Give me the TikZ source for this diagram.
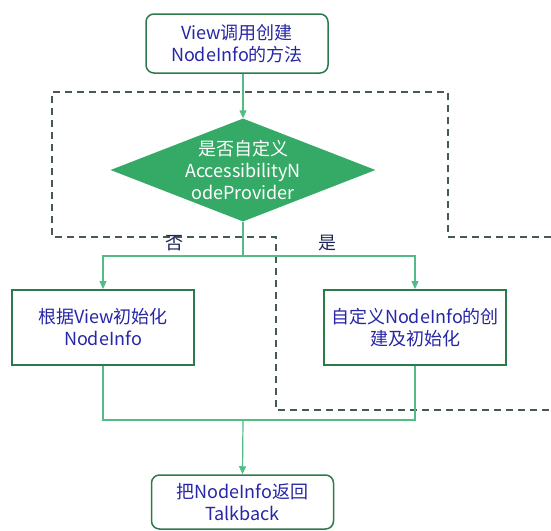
\documentclass[tikz,border=0pt]{standalone}
\usepackage{fontspec}
\setmainfont{Noto Sans CJK SC}
\definecolor{fBorder}{HTML}{2C7A4B}
\definecolor{fFill}{HTML}{34AA66}
\definecolor{fLine}{HTML}{52BC84}
\definecolor{fDash}{HTML}{465B50}
\definecolor{fText}{HTML}{2626A6}
\definecolor{fLabel}{HTML}{1E2557}
\usetikzlibrary{arrows.meta, positioning, shapes.geometric}

\begin{document}
\begin{tikzpicture}[x=1pt, y=-1pt,
  box/.style={draw=fBorder, line width=2pt, minimum width=182pt,
              minimum height=75pt, text=fText, align=center,
              font=\fontsize{18}{22}\selectfont},
  endbox/.style={box, rounded corners=8pt, line width=1.5pt},
  decision/.style={diamond, fill=fFill, text=white, align=center,
              inner sep=-2pt, shape aspect=2.57, minimum width=265pt,
              minimum height=103pt, font=\fontsize{18}{22}\selectfont},
  lbl/.style={text=fLabel, font=\fontsize{18}{22}\selectfont},
  flow/.style={draw=fLine, line width=1.2pt, -{Triangle[length=8pt, width=7pt]}},
  link/.style={draw=fLine, line width=1.2pt},
  region/.style={draw=fDash, line width=2pt, dash pattern=on 7pt off 5pt}]
  \useasboundingbox (0,0) rectangle (551,530);

  % dashed outline
  \draw[region] (551,237) -- (448,237) -- (448,92) -- (52,92) -- (52,237)
                -- (276,237) -- (276,410) -- (551,410);

  \node[endbox, minimum height=59pt] (start) at (237,43.5) {View调用创建\\NodeInfo的方法};
  \node[decision] (dia) at (243,170) {是否自定义\\AccessibilityN\\odeProvider};
  \node[box] (init) at (103,327.5) {根据View初始化\\NodeInfo};
  \node[box] (custom) at (415,327.5) {自定义NodeInfo的创\\建及初始化};
  \node[endbox, minimum height=54pt] (ret) at (242.5,502) {把NodeInfo返回\\Talkback};
  \node[lbl] (no) at (174,243) {否};
  \node[lbl] (yes) at (327,243) {是};

  \coordinate (split) at (dia.south |- 0,256);
  \coordinate (merge) at (dia.south |- 0,420);

  \draw[flow] (start.south -| dia.north) -- (dia.north);
  \draw[link] (dia.south) -- (split);
  \foreach \n in {init,custom}{
    \draw[flow] (split) -| (\n.north);
    \draw[link] (\n.south) |- (merge);
  }
  \draw[flow] (merge) -- (ret.north);
\end{tikzpicture}
\end{document}
